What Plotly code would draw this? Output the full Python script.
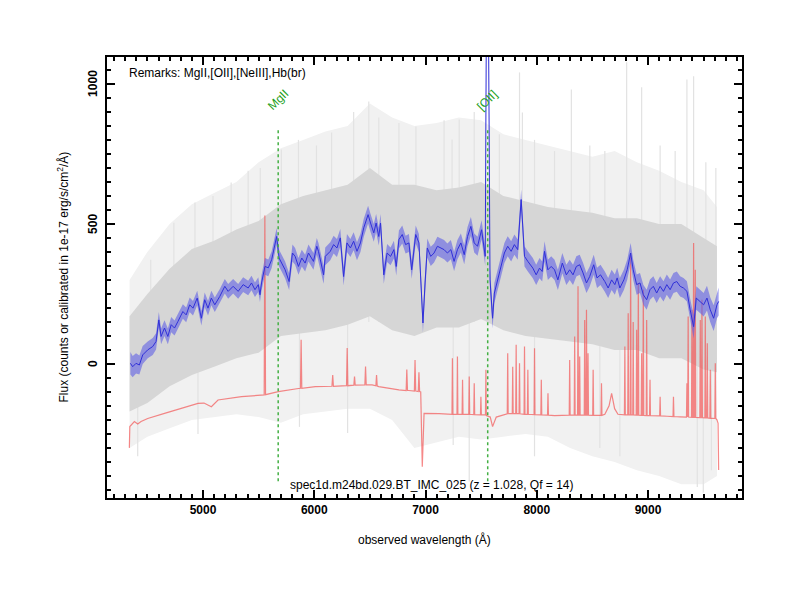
import plotly.graph_objects as go

# redshift and identified lines
z = 1.028
line_names = ["MgII", "[OII]"]
line_rest = [2798.75, 3727.4]
line_top = [834, 834]
line_bottom = [-426, -426]
label_y = [941, 941]

y_ticks = [0, 500, 1000]

# raw (unsmoothed) spectrum, drawn as envelopes of the individual pixels
gray_wave = [4340, 4500, 4700, 4900, 5100, 5300, 5500, 5700, 5900, 6100,
             6300, 6500, 6700, 6900, 7100, 7300, 7500, 7700, 7900, 8100,
             8300, 8500, 8700, 8900, 9100, 9300, 9500, 9620]
gray_outer_hi = [300, 400, 500, 570, 610, 650, 720, 770, 800, 830,
                 850, 930, 880, 850, 860, 880, 870, 820, 800, 780,
                 760, 740, 760, 720, 690, 650, 620, 560]
gray_outer_lo = [-300, -260, -230, -200, -190, -180, -190, -210, -180, -170,
                 -160, -160, -200, -300, -280, -260, -270, -260, -250, -260,
                 -300, -330, -350, -380, -400, -430, -430, -400]
gray_inner_hi = [170, 250, 340, 410, 440, 480, 510, 570, 600, 620,
                 640, 700, 640, 640, 620, 630, 650, 600, 580, 560,
                 550, 540, 520, 520, 500, 500, 450, 420]
gray_inner_lo = [-170, -140, -80, -40, -10, 20, 40, 100, 110, 120,
                 140, 170, 120, 100, 130, 130, 160, 120, 100, 90,
                 80, 70, 50, 50, 20, 20, -20, -30]
# single strong pixels sticking out of the raw spectrum
gray_spike_wave = [4530, 4738, 4928, 5090, 5253, 5406, 5515, 5704, 5858, 6020,
                   6156, 6354, 6490, 6580, 6761, 6914, 7167, 7239, 7303, 7438,
                   7664, 7845, 7871, 7980, 8160, 8311, 8477, 8612, 8808, 8943,
                   9109, 9244, 9350, 9410, 9520, 9610]
gray_spike_top = [372, 504, 576, 600, 648, 690, 700, 766, 800, 780,
                  826, 900, 937, 880, 860, 848, 870, 801, 873, 900,
                  820, 1041, 898, 800, 760, 980, 780, 760, 1077, 988,
                  780, 760, 1016, 1027, 720, 700]
gray_dip_wave = [4413, 4955, 5867, 6300, 7249, 7393, 7980, 8567, 8747, 9443,
                 9497, 9570]
gray_dip_bottom = [-330, -250, -225, -247, -290, -420, -330, -300, -330, -440,
                   -460, -380]
spike_floor = 150

# smoothed spectrum
blue_wave = [4347, 4368, 4398, 4428, 4458, 4503, 4548, 4578, 4603, 4623,
             4654, 4684, 4714, 4744, 4774, 4819, 4849, 4880, 4910, 4948,
             4985, 5015, 5045, 5075, 5106, 5151, 5196, 5226, 5271, 5316,
             5361, 5406, 5436, 5467, 5497, 5512, 5526, 5557, 5587, 5617,
             5662, 5684, 5707, 5738, 5774, 5804, 5828, 5858, 5888, 5918,
             5948, 5993, 6023, 6038, 6084, 6099, 6144, 6174, 6204, 6234,
             6264, 6294, 6325, 6354, 6384, 6415, 6445, 6484, 6506, 6535,
             6556, 6580, 6596, 6625, 6655, 6686, 6716, 6737, 6761, 6791,
             6821, 6851, 6876, 6912, 6941, 6977, 6996, 7016, 7047, 7077,
             7107, 7137, 7167, 7197, 7228, 7257, 7287, 7318, 7348, 7378,
             7408, 7438, 7468, 7504, 7537, 7548, 7565, 7580, 7603, 7619,
             7649, 7679, 7709, 7739, 7770, 7799, 7829, 7860, 7890, 7920,
             7965, 7995, 8025, 8049, 8070, 8100, 8130, 8160, 8190, 8230,
             8266, 8296, 8326, 8356, 8386, 8416, 8447, 8476, 8512, 8542,
             8573, 8612, 8642, 8673, 8702, 8723, 8747, 8783, 8813, 8844,
             8867, 8898, 8928, 8958, 8988, 9018, 9048, 9078, 9109, 9139,
             9169, 9199, 9229, 9259, 9289, 9319, 9350, 9379, 9410, 9434,
             9470, 9500, 9530, 9560, 9590, 9620, 9635]
blue_flux = [2, -10, 2, -4, 32, 50, 62, 80, 157, 98,
             128, 98, 140, 128, 151, 187, 175, 211, 199, 235,
             163, 229, 199, 235, 211, 241, 277, 259, 277, 259,
             283, 271, 289, 265, 283, 247, 289, 348, 343, 372,
             455, 378, 360, 336, 294, 396, 384, 348, 378, 360,
             396, 366, 420, 402, 318, 384, 402, 426, 414, 450,
             312, 432, 414, 438, 402, 432, 486, 533, 503, 468,
             503, 455, 503, 318, 396, 384, 408, 348, 444, 462,
             426, 432, 336, 462, 432, 146, 289, 414, 384, 396,
             420, 414, 408, 396, 408, 366, 408, 432, 390, 455,
             491, 432, 420, 479, 384, 1300, 1300, 300, 163, 253,
             300, 348, 396, 420, 402, 426, 408, 587, 384, 366,
             342, 318, 342, 330, 402, 336, 348, 336, 300, 360,
             318, 336, 318, 348, 354, 325, 289, 312, 354, 307,
             318, 294, 271, 300, 283, 307, 271, 300, 336, 396,
             336, 283, 289, 247, 229, 265, 277, 253, 277, 259,
             283, 265, 289, 294, 277, 271, 259, 193, 133, 235,
             223, 211, 235, 193, 163, 211, 223]
blue_err = [40, 38, 36, 34, 32, 30, 30, 29, 28, 28,
            28, 28, 27, 27, 27, 26, 26, 26, 26, 26,
            26, 26, 26, 26, 26, 26, 26, 26, 26, 26,
            26, 26, 26, 26, 26, 26, 28, 30, 30, 30,
            30, 30, 30, 30, 30, 30, 30, 30, 30, 30,
            30, 30, 30, 30, 32, 32, 32, 32, 32, 32,
            32, 32, 32, 32, 32, 32, 32, 32, 32, 32,
            32, 32, 32, 32, 32, 32, 32, 32, 32, 32,
            32, 32, 32, 32, 32, 34, 34, 34, 34, 34,
            34, 34, 34, 34, 34, 34, 34, 34, 34, 34,
            34, 34, 34, 34, 34, 50, 50, 40, 36, 36,
            36, 36, 36, 36, 36, 36, 36, 36, 36, 36,
            36, 36, 36, 36, 36, 36, 36, 36, 36, 36,
            36, 36, 36, 36, 36, 36, 36, 36, 36, 36,
            36, 36, 36, 36, 36, 36, 36, 36, 36, 36,
            36, 36, 36, 36, 36, 36, 36, 36, 36, 36,
            36, 36, 36, 36, 36, 36, 36, 40, 42, 42,
            42, 42, 44, 44, 46, 48, 50]

# sky / noise spectrum
red_wave = [4338, 4342, 4383, 4413, 4443, 4503, 4654, 4801, 4955, 5009,
            5075, 5135, 5346, 5550, 5556, 5562, 5677, 5858, 5876, 5882,
            5888, 6009, 6159, 6166, 6172, 6290, 6296, 6302, 6356, 6362,
            6368, 6455, 6461, 6467, 6520, 6554, 6560, 6566, 6580, 6761,
            6826, 6832, 6838, 6851, 6900, 6906, 6912, 6935, 6941, 6947,
            6957, 6971, 6987, 7122, 7238, 7242, 7246, 7283, 7287, 7291,
            7329, 7333, 7337, 7389, 7393, 7397, 7434, 7438, 7442, 7494,
            7498, 7502, 7539, 7543, 7547, 7582, 7603, 7636, 7709, 7735,
            7739, 7743, 7780, 7784, 7788, 7811, 7815, 7819, 7841, 7845,
            7849, 7886, 7890, 7894, 7916, 7920, 7924, 7976, 7980, 7984,
            8037, 8041, 8045, 8097, 8101, 8105, 8161, 8251, 8292, 8296,
            8300, 8337, 8341, 8345, 8367, 8371, 8375, 8382, 8386, 8390,
            8427, 8431, 8435, 8443, 8447, 8451, 8457, 8461, 8465, 8503,
            8507, 8511, 8578, 8582, 8586, 8612, 8650, 8673, 8700, 8730,
            8788, 8792, 8796, 8818, 8822, 8826, 8840, 8844, 8848, 8863,
            8867, 8871, 8894, 8898, 8902, 8909, 8913, 8917, 8939, 8943,
            8947, 8954, 8958, 8962, 8984, 8988, 8992, 9014, 9018, 9022,
            9063, 9105, 9109, 9113, 9172, 9225, 9229, 9233, 9289, 9346,
            9350, 9354, 9357, 9361, 9365, 9391, 9395, 9399, 9406, 9410,
            9414, 9421, 9425, 9429, 9466, 9470, 9474, 9481, 9485, 9489,
            9511, 9515, 9519, 9529, 9533, 9537, 9556, 9560, 9564, 9601,
            9605, 9609, 9620, 9630, 9635]
red_flux = [-300, -224, -206, -215, -206, -195, -177, -160, -141, -140,
            -153, -129, -117, -111, 530, -110, -99, -88, -87, 86,
            -87, -81, -80, -40, -80, -78, 57, -78, -76, -45,
            -76, -75, -9, -75, -75, -78, -40, -79, -81, -93,
            -95, -20, -95, -95, -97, 14, -97, -99, -30, -99,
            -100, -367, -177, -178, -180, 20, -180, -180, 26, -180,
            -180, -57, -180, -180, -45, -180, -181, -69, -181, -182,
            -117, -182, -182, -21, -185, -190, -224, -190, -180, -178,
            38, -178, -178, -10, -178, -178, 68, -178, -178, 2,
            -178, -180, 62, -180, -180, -21, -180, -181, 56, -181,
            -182, -57, -182, -183, -105, -183, -185, -184, -183, 14,
            -183, -183, 98, -183, -183, 277, -183, -183, 26, -183,
            -183, 157, -183, -183, 193, -183, -183, 38, -183, -184,
            -21, -184, -184, -69, -184, -180, -150, -105, -160, -180,
            -182, 62, -182, -182, 181, -182, -182, 396, -182, -182,
            150, -182, -183, 122, -183, -183, 289, -183, -184, 38,
            -184, -184, 265, -184, -185, 157, -185, -185, -57, -185,
            -186, -186, -117, -186, -187, -188, -117, -188, -189, -190,
            -69, -190, -190, 169, -190, -191, 193, -191, -191, 432,
            -191, -191, 336, -191, -192, 157, -192, -192, 229, -192,
            -193, 169, -193, -193, 74, -193, -194, -21, -194, -195,
            2, -195, -200, -212, -379]

assert len(blue_wave) == len(blue_flux) == len(blue_err)
assert len(red_wave) == len(red_flux)
assert len(gray_spike_wave) == len(gray_spike_top)
assert len(gray_dip_wave) == len(gray_dip_bottom)

remarks = "Remarks: MgII,[OII],[NeIII],Hb(br)"
spec_name = "spec1d.m24bd.029.BT_IMC_025 (z = 1.028, Qf = 14)"
x_title = "observed wavelength (Å)"
y_title = "Flux (counts or calibrated in 1e-17 erg/s/cm<sup>2</sup>/Å)"

font = "Liberation Sans, Arial, sans-serif"

fig = go.Figure()

# raw spectrum: faint envelope, lone spikes, dense core
fig.add_trace(go.Scatter(x=gray_wave + gray_wave[::-1],
                         y=gray_outer_hi + gray_outer_lo[::-1],
                         fill="toself", fillcolor="#f1f1f1",
                         line=dict(width=0), mode="lines",
                         hoverinfo="skip"))
spike_x, spike_y = [], []
for w, top in zip(gray_spike_wave, gray_spike_top):
    spike_x += [w, w, None]
    spike_y += [spike_floor, top, None]
for w, bottom in zip(gray_dip_wave, gray_dip_bottom):
    spike_x += [w, w, None]
    spike_y += [spike_floor, bottom, None]
fig.add_trace(go.Scatter(x=spike_x, y=spike_y, mode="lines",
                         line=dict(color="#e2e2e2", width=1.2),
                         hoverinfo="skip"))
fig.add_trace(go.Scatter(x=gray_wave + gray_wave[::-1],
                         y=gray_inner_hi + gray_inner_lo[::-1],
                         fill="toself", fillcolor="#d6d6d6",
                         line=dict(width=0), mode="lines",
                         hoverinfo="skip"))

# sky spectrum
fig.add_trace(go.Scatter(x=red_wave, y=red_flux, mode="lines",
                         line=dict(color="rgba(242,85,85,0.7)", width=1.2)))

# smoothed spectrum with its error band
upper = [f + e for f, e in zip(blue_flux, blue_err)]
lower = [f - e for f, e in zip(blue_flux, blue_err)]
fig.add_trace(go.Scatter(x=blue_wave + blue_wave[::-1],
                         y=upper + lower[::-1],
                         fill="toself", fillcolor="rgba(95,95,228,0.6)",
                         line=dict(width=0), mode="lines",
                         hoverinfo="skip"))
fig.add_trace(go.Scatter(x=blue_wave, y=blue_flux, mode="lines",
                         line=dict(color="#3030d8", width=1)))

# identified lines
for name, rest, top, bottom, ly in zip(line_names, line_rest, line_top,
                                       line_bottom, label_y):
    obs = rest * (1 + z)
    fig.add_trace(go.Scatter(x=[obs, obs], y=[top, bottom], mode="lines",
                             line=dict(color="#44b044", width=1.5,
                                       dash="3px,3px")))
    fig.add_annotation(x=obs, y=ly, text=name, showarrow=False,
                       textangle=-45,
                       font=dict(family=font, size=12, color="#22a022"))

fig.add_annotation(x=4320, y=1038, text=remarks, showarrow=False,
                   xanchor="left", font=dict(family=font, size=12,
                                             color="black"))
fig.add_annotation(x=5767, y=-433, text=spec_name, showarrow=False,
                   xanchor="left", font=dict(family=font, size=12,
                                             color="black"))

# vertical y tick labels
for v in y_ticks:
    fig.add_annotation(xref="paper", x=0, y=v, text=str(v),
                       showarrow=False, textangle=-90, xanchor="center",
                       xshift=-14,
                       font=dict(family=font, size=12, color="black",
                                 weight="bold"))

# axis titles
fig.add_annotation(xref="paper", yref="paper", x=0.5, y=0, yshift=-41,
                   text=x_title, showarrow=False, yanchor="middle",
                   font=dict(family=font, size=12, color="black"))
fig.add_annotation(xref="paper", yref="paper", x=0, y=0.5, xshift=-45,
                   text=y_title, showarrow=False, textangle=-90,
                   xanchor="center",
                   font=dict(family=font, size=12, color="black"))

axis_common = dict(showline=True, linecolor="black", linewidth=2,
                   mirror="allticks", ticks="inside", ticklen=8,
                   tickwidth=1.5, tickcolor="black", showgrid=False,
                   zeroline=False, automargin=False,
                   tickfont=dict(family=font, size=12, color="black",
                                 weight="bold"))

fig.update_xaxes(range=[4137, 9845], dtick=1000, tick0=0, tickformat="d",
                 minor=dict(dtick=100, ticklen=4, ticks="inside",
                            tickcolor="black", tickwidth=1.5),
                 **axis_common)
fig.update_yaxes(range=[-479, 1096], tickvals=y_ticks,
                 showticklabels=False,
                 minor=dict(dtick=50, ticklen=4, ticks="inside",
                            tickcolor="black", tickwidth=1.5),
                 **axis_common)

# the page body adds 8px around the figure, so the figure is 16px smaller
fig.update_layout(width=784, height=584,
                  margin=dict(l=99, r=50, t=49, b=94),
                  plot_bgcolor="white", paper_bgcolor="white",
                  showlegend=False)

fig.write_html("out.html")
